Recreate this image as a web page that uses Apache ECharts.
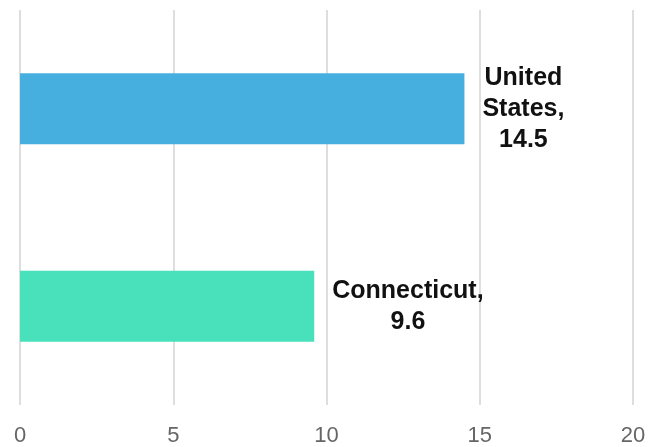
<!DOCTYPE html>
<html>
<head>
<meta charset="utf-8">
<script src="https://cdn.jsdelivr.net/npm/echarts@6/dist/echarts.min.js"></script>
<style>html,body{margin:0;padding:0;background:#fff}#c{width:658px;height:447px}</style>
</head>
<body>
<div id="c"></div>
<script>
const categories = ['United States', 'Connecticut'];
const values = [14.5, 9.6];
const colors = ['#47afdf', '#48e1bc'];
const xTicks = [0, 5, 10, 15, 20];

const chart = echarts.init(document.getElementById('c'));
chart.setOption({
  animation: false,
  grid: { left: 20, right: 25, top: 10, bottom: 40, containLabel: false },
  xAxis: {
    type: 'value', min: xTicks[0], max: xTicks[xTicks.length - 1], interval: 5,
    axisLine: { show: false }, axisTick: { show: false },
    splitLine: { show: true, lineStyle: { color: '#dedede', width: 2 } },
    axisLabel: { color: '#666', fontSize: 22, fontFamily: 'Liberation Sans, Arial, sans-serif', margin: 20 }
  },
  yAxis: {
    type: 'category', data: categories, inverse: true,
    axisLine: { show: false }, axisTick: { show: false }, axisLabel: { show: false }
  },
  series: [{
    type: 'bar', barWidth: 71,
    data: values.map((v, i) => ({ value: v, itemStyle: { color: colors[i] } })),
    label: {
      show: true, position: 'right', distance: 18,
      formatter: p => {
        const lines = p.name.split(' ');
        lines[lines.length - 1] += ',';
        lines.push(String(p.value));
        return lines.map(l => '{c|' + l + '}').join('\n');
      },
      rich: {
        c: { align: 'center', fontSize: 25, fontWeight: 'bold', color: '#111', lineHeight: 31, fontFamily: 'Liberation Sans, Arial, sans-serif' }
      }
    }
  }]
});
</script>
</body>
</html>
